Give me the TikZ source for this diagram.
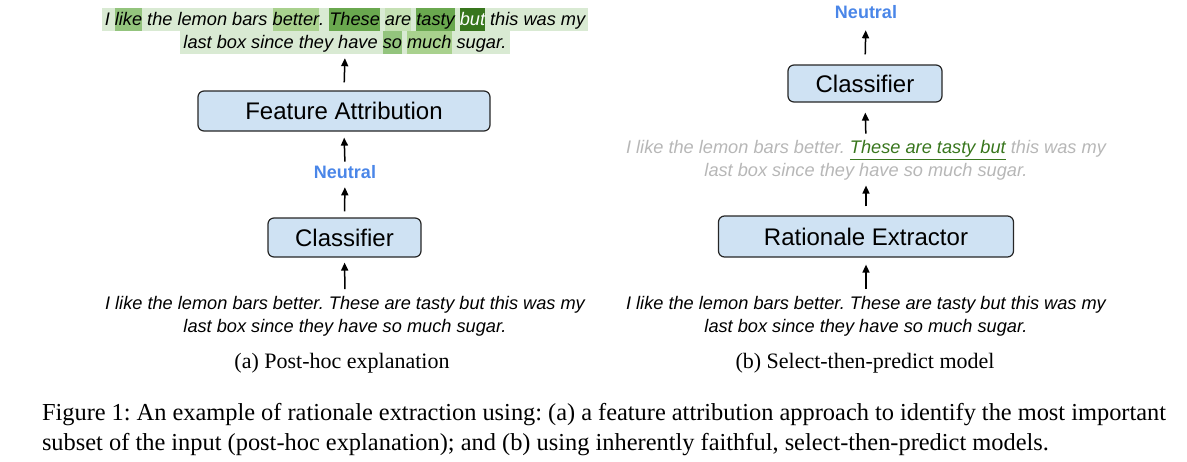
\documentclass[tikz,border=0pt]{standalone}
\usepackage{fontspec}
\setmainfont{Liberation Serif}
\setsansfont{Liberation Sans}
\usetikzlibrary{arrows.meta}

\definecolor{boxblue}{HTML}{CFE2F3}
\definecolor{labelblue}{HTML}{4A86E8}
\definecolor{hlbase}{HTML}{D9EAD3}
\definecolor{hlone}{HTML}{C5E0B4}
\definecolor{hltwo}{HTML}{A9D18E}
\definecolor{hlthree}{HTML}{93C47D}
\definecolor{hlfour}{HTML}{6AA84F}
\definecolor{hlfive}{HTML}{38761D}
\definecolor{fadedgrey}{HTML}{B7B7B7}
\definecolor{ratgreen}{HTML}{38761D}

% word and line highlights for the attribution map
\newcommand{\hlw}[2]{{\setlength{\fboxsep}{0pt}\colorbox{#1}{\rule[-6pt]{0pt}{23pt}#2}}}
\newcommand{\hlline}[1]{{\setlength{\fboxsep}{0pt}\colorbox{hlbase}{\rule[-6pt]{0pt}{23pt}\hspace{3pt}#1\hspace{3pt}}}}

\tikzset{
  block/.style={draw=black!85, line width=1.2pt, fill=boxblue, rounded corners=6pt,
    font=\sffamily\fontsize{24}{28}\selectfont, inner sep=0pt, minimum height=40pt},
  neutral/.style={font=\sffamily\bfseries\fontsize{18}{22}\selectfont, text=labelblue, inner sep=0pt},
  sent/.style={font=\sffamily\itshape\fontsize{18.2}{23}\selectfont, align=center, inner sep=0pt},
  subcap/.style={font=\fontsize{22}{26}\selectfont, inner sep=0pt},
  arr/.style={-{Triangle[length=8pt,width=7pt]}, line width=1.5pt}
}

\begin{document}
\frenchspacing
\begin{tikzpicture}[x=1pt,y=-1pt]
\useasboundingbox (0,0) rectangle (1187,461);

% (a) post-hoc explanation
\node [sent] (inL) at (345,316.4) {I like the lemon bars better. These are tasty but this was my\\last box since they have so much sugar.};
\node [block, minimum width=153pt, minimum height=39pt] (clsL) at (344.5,237.5) {Classifier};
\node [neutral] (labL) at (345,172) {Neutral};
\node [block, minimum width=292pt] (attr) at (344,111) {Feature Attribution};
\node [sent] (heat) at (345,31) {\hlline{I \hlw{hlthree}{like} the lemon bars \hlw{hltwo}{better}. \hlw{hlfour}{These} \hlw{hlone}{are} \hlw{hlfour}{tasty} \hlw{hlfive}{\color{white}but} this was my}\\\hlline{last box since they have \hlw{hlthree}{so} \hlw{hltwo}{much} sugar.}};
\node [subcap] (capA) at (342,363) {(a) Post-hoc explanation};

% (b) select-then-predict model
\node [sent] (inR) at (866,316.4) {I like the lemon bars better. These are tasty but this was my\\last box since they have so much sugar.};
\node [block, minimum width=295pt, minimum height=41pt] (extr) at (866,236.5) {Rationale Extractor};
\node [sent, text=fadedgrey] (selR) at (866,160.4) {I like the lemon bars better. \textcolor{ratgreen}{\underline{These are tasty but}} this was my\\last box since they have so much sugar.};
\node [block, minimum width=154pt, minimum height=37pt] (clsR) at (865,83.5) {Classifier};
\node [neutral] (labR) at (866,12) {Neutral};
\node [subcap] (capB) at (865,363) {(b) Select-then-predict model};

% Arrows drawn
\draw [arr, shorten <=7pt, shorten >=5pt] (inL.north) -- (clsL.south);
\draw [arr, shorten <=6pt, shorten >=8.5pt] (clsL.north) -- (labL.south);
\draw [arr, shorten <=3.5pt, shorten >=6pt] (labL.north) -- (attr.south);
\draw [arr, shorten <=8pt, shorten >=4pt] (attr.north) -- (heat.south);

\draw [arr, shorten <=7pt, shorten >=7pt] (inR.north) -- (extr.south);
\draw [arr, shorten <=9pt, shorten >=5pt] (extr.north) -- (selR.south);
\draw [arr, shorten <=6.5pt, shorten >=10pt] (selR.north) -- (clsR.south);
\draw [arr, shorten <=10pt, shorten >=11.5pt] (clsR.north) -- (labR.south);

% Figure caption
\node [font=\fontsize{24.4}{29.5}\selectfont, text width=1124pt, align=justify, inner sep=0pt] (cap) at (604,429.5) {Figure 1: An example of rationale extraction using: (a) a feature attribution approach to identify the most important\linebreak subset of the input (post-hoc explanation); and (b) using inherently faithful, select-then-predict models.};
\end{tikzpicture}
\end{document}
